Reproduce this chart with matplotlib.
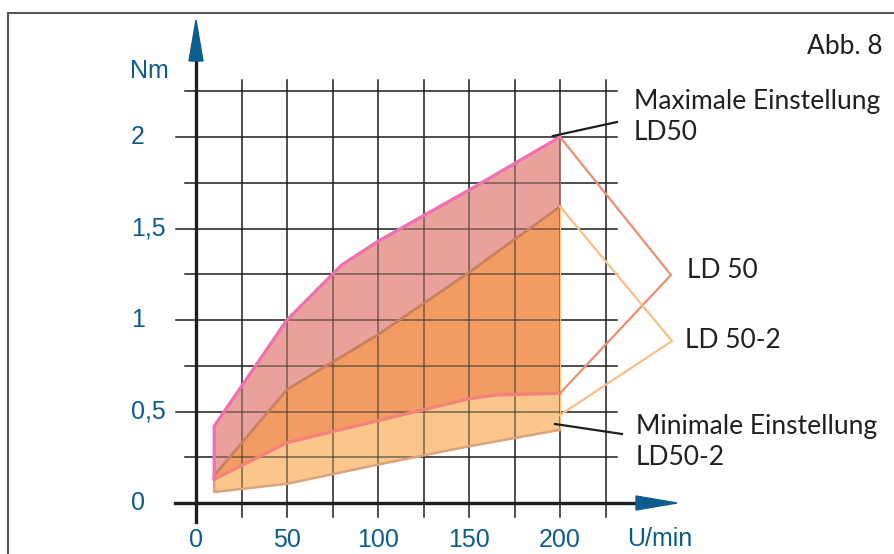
import numpy as np
import matplotlib
matplotlib.use('Agg')
import matplotlib.pyplot as plt
from matplotlib.patches import Polygon, Rectangle

# '#' LD 50 (upper and lower setting)
ld50_max_x = [10, 50, 80, 100, 150, 200]
ld50_max_y = [0.42, 1.0, 1.3, 1.43, 1.71, 2.0]
ld50_min_x = [10, 50, 100, 150, 165, 200]
ld50_min_y = [0.13, 0.33, 0.45, 0.57, 0.59, 0.60]

# '#' LD 50-2 (upper and lower setting)
ld502_max_x = [10, 50, 100, 150, 200]
ld502_max_y = [0.15, 0.62, 0.92, 1.26, 1.62]
ld502_min_x = [10, 50, 100, 150, 200]
ld502_min_y = [0.06, 0.105, 0.21, 0.31, 0.40]

x_ticks = [0, 50, 100, 150, 200]
x_tick_labels = ['0', '50', '100', '150', '200']
y_ticks = [0, 0.5, 1, 1.5, 2]
y_tick_labels = ['0', '0,5', '1', '1,5', '2']
x_grid = [25, 50, 75, 100, 125, 150, 175, 200, 225]
y_grid = [0.25, 0.5, 0.75, 1.0, 1.25, 1.5, 1.75, 2.0, 2.25]

BLUE = '#0d5c8e'
TXT = '#231f20'

# '#' pixel scale of the original drawing
X0, SX = 196, 1.82
Y0, SY = 503, 183
W, H = 894, 554


def px(x, y):
    return (x - X0) / SX, (Y0 - y) / SY


fig = plt.figure(figsize=(W / 100, H / 100), dpi=100)
ax = fig.add_axes([0, 0, 1, 1])
ax.set_xlim(px(0, 0)[0], px(W, 0)[0])
ax.set_ylim(px(0, H)[1], px(0, 0)[1])
ax.axis('off')

# '#' outer frame
fig.patches.append(Rectangle((8 / W, -0.1), 2, (H - 13) / H + 0.1, transform=fig.transFigure,
                             fill=False, edgecolor='#555555', linewidth=1.5))

# '#' grid
gx_top = px(0, 80)[1]
gx_bot = px(0, 517)[1]
gy_right = px(617, 0)[0]
for gx in x_grid:
    ax.plot([gx, gx], [gx_bot, gx_top], color='#1e1e1e', lw=1.1, zorder=1)
for gy in y_grid:
    left = px(176, 0)[0] if gy in y_ticks else px(185, 0)[0]
    ax.plot([left, gy_right], [gy, gy], color='#1e1e1e', lw=1.1, zorder=1)

# '#' fills
xs = sorted(set(ld50_max_x + ld50_min_x + ld502_max_x + ld502_min_x))
a_top = np.interp(xs, ld50_max_x, ld50_max_y)
a_bot = np.interp(xs, ld50_min_x, ld50_min_y)
b_top = np.interp(xs, ld502_max_x, ld502_max_y)
b_bot = np.interp(xs, ld502_min_x, ld502_min_y)
ax.fill_between(xs, a_bot, a_top, color='#eba19b', lw=0, zorder=2)
ax.fill_between(xs, b_bot, b_top, color='#fbc68b', lw=0, zorder=2)
ax.fill_between(xs, np.maximum(a_bot, b_bot), np.minimum(a_top, b_top), color='#f29b63', lw=0, zorder=2)
ax.plot([200, 200], [ld502_min_y[-1], ld502_max_y[-1]], color='#fbc68b', lw=1.5, zorder=2)

# '#' grid seen through the fills
outline = list(zip(xs, b_bot)) + list(zip(xs[::-1], a_top[::-1]))
clip = Polygon(outline, closed=True, transform=ax.transData, facecolor='none', edgecolor='none')
ax.add_patch(clip)
for gx in x_grid:
    ln, = ax.plot([gx, gx], [gx_bot, gx_top], color='#4a4236', lw=1.1, alpha=0.75, zorder=3)
    ln.set_clip_path(clip)
for gy in y_grid:
    ln, = ax.plot([0, gy_right], [gy, gy], color='#4a4236', lw=1.1, alpha=0.75, zorder=3)
    ln.set_clip_path(clip)

# '#' curves
ax.plot([ld50_max_x[0]] + ld50_max_x, [ld50_min_y[0]] + ld50_max_y, color='#ee72b0', lw=2.4, zorder=5,
        solid_joinstyle='miter')
ax.plot(ld50_min_x, ld50_min_y, color='#f3837a', lw=2.4, zorder=4)
ax.plot(ld502_max_x, ld502_max_y, color='#c8815f', lw=2.0, zorder=4)
ax.plot([ld502_max_x[0]] + ld502_min_x, [ld502_max_y[0]] + ld502_min_y, color='#d9a37c', lw=1.8, zorder=4)

# '#' axes with arrows
ax.plot([px(175, 0)[0], px(640, 0)[0]], [0, 0], color='#1e1e1e', lw=2.4, zorder=6)
ax.plot([0, 0], [px(0, 522)[1], px(0, 58)[1]], color='#1e1e1e', lw=2.4, zorder=6)
ax.add_patch(Polygon([px(636, 496), px(677, 503), px(636, 510)], closed=True, color=BLUE, zorder=7))
ax.add_patch(Polygon([px(189, 61), px(196, 20), px(203, 61)], closed=True, color=BLUE, zorder=7))

# '#' tick labels
for v, s in zip(x_ticks, x_tick_labels):
    ax.text(v, px(0, 540)[1], s, color=BLUE, fontsize=18, ha='center', va='center',
            family='Liberation Sans')
for v, s in zip(y_ticks, y_tick_labels):
    ax.text(px(131, 0)[0], v, s, color=BLUE, fontsize=18, ha='left', va='center',
            family='Liberation Sans')
ax.text(*px(149, 71), 'Nm', color=BLUE, fontsize=18, ha='center', va='center', family='Liberation Sans')
ax.text(*px(660, 539), 'U/min', color=BLUE, fontsize=18, ha='center', va='center', family='Liberation Sans')

# '#' leader lines
ax.plot([200, px(671, 0)[0], 200], [ld50_max_y[-1], px(0, 275)[1], ld50_min_y[-1]],
        color='#f08c70', lw=1.6, zorder=4)
ax.plot([200, px(672, 0)[0], 200], [ld502_max_y[-1], px(0, 341)[1], px(0, 415)[1]],
        color='#fdbe86', lw=1.6, zorder=4)
ax.plot([px(553, 0)[0], px(617, 0)[0]], [px(0, 136)[1], px(0, 122)[1]], color='#1e1e1e', lw=1.6, zorder=6)
ax.plot([px(555, 0)[0], px(622, 0)[0]], [px(0, 424)[1], px(0, 434)[1]], color='#1e1e1e', lw=1.6, zorder=6)

# '#' labels
lab = dict(color=TXT, fontsize=19, ha='left', va='center', family='Lato')
ax.text(*px(634, 117), 'Maximale Einstellung\nLD50', linespacing=1.32, **lab)
ax.text(*px(636, 442), 'Minimale Einstellung\nLD50-2', linespacing=1.32, **lab)
ax.text(*px(687, 271), 'LD 50', **lab)
ax.text(*px(685, 341), 'LD 50-2', **lab)
ax.text(*px(807, 46), 'Abb. 8', **lab)

fig.savefig('out.png', dpi=100)
